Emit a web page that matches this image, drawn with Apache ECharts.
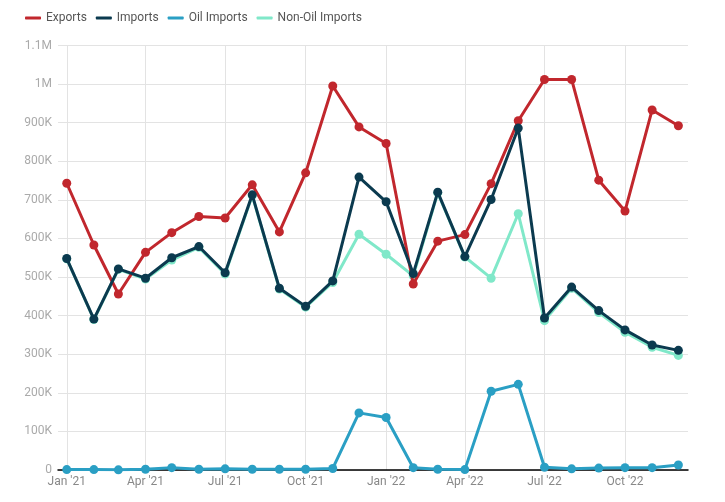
<!DOCTYPE html>
<html>
<head>
<meta charset="utf-8">
<script src="https://cdn.jsdelivr.net/npm/echarts@6/dist/echarts.min.js"></script>
<style>
html,body{margin:0;padding:0;background:#fff;}
#chart{width:725px;height:502px;}
</style>
</head>
<body>
<div id="chart"></div>
<script>
const months = ['2021-01-01','2021-02-01','2021-03-01','2021-04-01','2021-05-01','2021-06-01','2021-07-01','2021-08-01','2021-09-01','2021-10-01','2021-11-01','2021-12-01',
  '2022-01-01','2022-02-01','2022-03-01','2022-04-01','2022-05-01','2022-06-01','2022-07-01','2022-08-01','2022-09-01','2022-10-01','2022-11-01','2022-12-01'];
const exportsVals = [743000,583000,456000,564000,615000,657000,653000,739000,617000,770000,995000,889000,
  846000,482000,593000,610000,742000,905000,1012000,1012000,751000,671000,933000,892000];
const importsVals = [548000,391000,521000,497000,550000,579000,511000,713000,471000,424000,490000,759000,
  695000,509000,720000,553000,701000,886000,394000,474000,413000,363000,324000,310000];
const oilVals = [1000,1000,500,2000,6000,2000,3000,2000,2000,2000,4000,148000,
  136000,6000,2000,1000,204000,222000,7000,3000,5000,6000,6000,13000];
const nonOilVals = [547000,390000,520000,495000,544000,577000,508000,711000,469000,422000,486000,611000,
  559000,503000,718000,552000,497000,664000,387000,471000,408000,357000,318000,297000];
const tickMonths = ['2021-01','2021-04','2021-07','2021-10','2022-01','2022-04','2022-07','2022-10'];
const yTicks = [0,100000,200000,300000,400000,500000,600000,700000,800000,900000,1000000,1100000];

const monNames = ['Jan','Feb','Mar','Apr','May','Jun','Jul','Aug','Sep','Oct','Nov','Dec'];
function toTs(s){ const p=s.split('-'); return Date.UTC(+p[0], +p[1]-1, p[2]?+p[2]:1); }
function pair(vals){ return months.map((m,i)=>[toTs(m), vals[i]]); }
const tickTs = tickMonths.map(toTs);
const DAY = 86400000;

const colors = {exp:'#c1272d', imp:'#0b3a4f', oil:'#2a9fc4', non:'#80e8c9'};
function mkSeries(name, vals, color, z){
  return {
    name: name, type:'line', data: pair(vals), z: z,
    symbol:'circle', symbolSize:9, showSymbol:true,
    lineStyle:{width:3, color: color}, itemStyle:{color: color},
    emphasis:{disabled:true}
  };
}

const chart = echarts.init(document.getElementById('chart'), null, {renderer:'canvas', useUTC:true});
chart.setOption({
  animation:false,
  useUTC:true,
  textStyle:{fontFamily:'Roboto'},
  legend:{
    data:['Exports','Imports','Oil Imports','Non-Oil Imports'],
    left:20, top:7, itemWidth:16, itemHeight:3, itemGap:9,
    icon:'roundRect',
    textStyle:{color:'#555', fontSize:12, fontFamily:'Roboto'}
  },
  grid:{left:58, right:37, top:45.5, bottom:32, containLabel:false},
  xAxis:{
    type:'time',
    min: toTs('2020-12-22'),
    max: toTs('2022-12-12'),
    minInterval: 85*DAY,
    maxInterval: 95*DAY,
    axisLine:{show:true, lineStyle:{color:'#000', width:1.5}},
    axisTick:{show:false},
    splitLine:{show:true, showMinLine:false, showMaxLine:false, lineStyle:{color:'#e3e3e3', width:1}},
    axisLabel:{
      showMinLabel:false, showMaxLabel:false, hideOverlap:false,
      color:'#888', fontSize:12, margin:6,
      formatter: function(v){
        const d=new Date(v);
        if (!tickTs.includes(v)) return '';
        return monNames[d.getUTCMonth()]+" '"+String(d.getUTCFullYear()).slice(2);
      }
    }
  },
  yAxis:{
    type:'value', min:0, max:1100000, interval:100000,
    axisLine:{show:false}, axisTick:{show:false},
    splitLine:{lineStyle:{color:'#e3e3e3', width:1}},
    axisLabel:{
      color:'#aaa', fontSize:12, margin:6,
      formatter: function(v){ if(v===0) return '0'; if(v>=1000000) return (v/1000000)+'M'; return (v/1000)+'K'; }
    }
  },
  series:[
    mkSeries('Non-Oil Imports', nonOilVals, colors.non, 1),
    mkSeries('Oil Imports', oilVals, colors.oil, 2),
    mkSeries('Exports', exportsVals, colors.exp, 3),
    mkSeries('Imports', importsVals, colors.imp, 4)
  ]
});
</script>
</body>
</html>
